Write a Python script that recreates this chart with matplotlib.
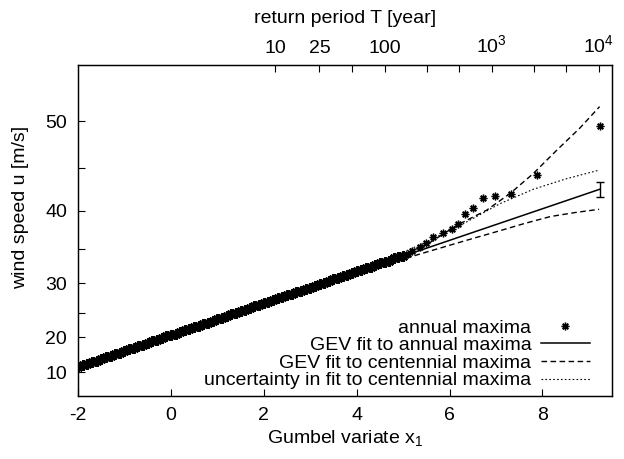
import numpy as np
import matplotlib
matplotlib.use('Agg')
import matplotlib.pyplot as plt

plt.rcParams['font.family'] = ['Liberation Sans', 'DejaVu Sans']
plt.rcParams['mathtext.fontset'] = 'custom'
plt.rcParams['mathtext.rm'] = 'Liberation Sans'

# annual maxima: dense band (Gumbel variate x1, wind speed u)
band_x = [-2.0, -1.9, -1.8, -1.7, -1.6, -1.5, -1.4, -1.3, -1.2, -1.1,
          -1.0, -0.9, -0.8, -0.7, -0.6, -0.5, -0.4, -0.3, -0.2, -0.1,
          0.0, 0.1, 0.2, 0.3, 0.4, 0.5, 0.6, 0.7, 0.8, 0.9,
          1.0, 1.1, 1.2, 1.3, 1.4, 1.5, 1.6, 1.7, 1.8, 1.9,
          2.0, 2.1, 2.2, 2.3, 2.4, 2.5, 2.6, 2.7, 2.8, 2.9,
          3.0, 3.1, 3.2, 3.3, 3.4, 3.5, 3.6, 3.7, 3.8, 3.9,
          4.0, 4.1, 4.2, 4.3, 4.4, 4.5, 4.6, 4.7, 4.8, 4.9, 5.0]
band_u = [12.1, 12.6, 13.1, 13.6, 14.1, 14.6, 15.0, 15.5, 15.9, 16.3,
          16.8, 17.2, 17.6, 17.9, 18.3, 18.7, 19.1, 19.4, 19.8, 20.2,
          20.5, 20.8, 21.2, 21.5, 21.8, 22.2, 22.5, 22.8, 23.1, 23.4,
          23.7, 24.0, 24.4, 24.7, 24.9, 25.2, 25.5, 25.8, 26.1, 26.4,
          26.7, 26.9, 27.2, 27.5, 27.7, 28.0, 28.3, 28.5, 28.8, 29.1,
          29.3, 29.6, 29.8, 30.1, 30.3, 30.6, 30.8, 31.1, 31.3, 31.5,
          31.8, 32.0, 32.3, 32.5, 32.8, 33.0, 33.2, 33.4, 33.7, 33.9, 34.1]
# annual maxima: sparse upper tail
tail_x = [5.1, 5.2, 5.37, 5.5, 5.65, 5.86, 6.05, 6.18, 6.34, 6.50, 6.71, 6.97, 7.33, 7.88, 9.24]
tail_u = [34.4, 34.8, 35.3, 35.8, 36.6, 37.2, 37.7, 38.3, 39.6, 40.3, 41.6, 41.8, 42.0, 44.2, 49.5]

# GEV fit to annual maxima
fit1_x = [-2.0, 9.23]
fit1_u = [12.1, 42.6]
fit1_err = (9.23, 42.6, 0.9, 0.9)  # x, u, lower, upper

# GEV fit to centennial maxima (upper curve) and lower curve
cent_x = [3.2, 4.5, 5.5, 6.16, 6.8, 7.3, 7.8, 8.31, 8.8, 9.23]
cent_u = [29.8, 32.9, 35.6, 38.2, 40.1, 42.1, 44.4, 47.0, 49.3, 51.5]
low_x = [3.2, 4.5, 5.5, 6.3, 7.09, 7.6, 8.17, 8.7, 9.22]
low_u = [29.8, 32.6, 34.6, 36.1, 37.5, 38.4, 39.3, 39.8, 40.2]
# uncertainty in fit to centennial maxima
unc_x = [3.2, 4.5, 5.5, 6.3, 7.09, 7.8, 8.5, 9.22]
unc_u = [29.8, 33.1, 36.0, 38.4, 40.9, 42.6, 43.8, 44.8]

# return period ticks on the top axis
T_major = [10, 25, 100, 1000, 10000]
T_major_labels = ['10', '25', '100', r'$10^3$', r'$10^4$']
T_minor = [50, 250, 500, 2500, 5000]

y_ticks = [10, 20, 30, 40, 50]
y_minor = [25, 35, 45]

P = 1.85
FS = 14
STAR = (8, 2, 0)


def fwd(u):
    u = np.asarray(u, dtype=float)
    return np.sign(u) * np.abs(u) ** P


def inv(v):
    v = np.asarray(v, dtype=float)
    return np.sign(v) * np.abs(v) ** (1.0 / P)


def gumbel(T):
    T = np.asarray(T, dtype=float)
    return -np.log(-np.log(1.0 - 1.0 / T))


fig = plt.figure(figsize=(6.24, 4.59), dpi=100)
ax = fig.add_axes([0.125, 0.137, 0.856, 0.721])
ax.set_yscale('function', functions=(fwd, inv))

ax.plot(band_x, band_u, linestyle='none', marker=STAR,
        markersize=7.5, markeredgewidth=1.7, color='black')
ax.plot(tail_x, tail_u, linestyle='none', marker=STAR,
        markersize=5.5, markeredgewidth=1.0, color='black', label='annual maxima')
ax.plot(fit1_x, fit1_u, color='black', linewidth=1.1, label='GEV fit to annual maxima')
ax.plot(cent_x, cent_u, color='black', linewidth=1.0, dashes=(4, 2.5),
        label='GEV fit to centennial maxima')
ax.plot(low_x, low_u, color='black', linewidth=1.0, dashes=(4, 2.5))
ax.plot(unc_x, unc_u, color='black', linewidth=0.8, dashes=(1.5, 2.0),
        label='uncertainty in fit to centennial maxima')
ax.errorbar([fit1_err[0]], [fit1_err[1]], yerr=[[fit1_err[2]], [fit1_err[3]]],
            fmt='none', ecolor='black', elinewidth=1.0, capsize=3, capthick=1.0)

ax.set_xlim(-2, 9.5)
ax.set_ylim(-8.6, 55.5)
ax.set_xticks([-2, 0, 2, 4, 6, 8])
ax.set_xticklabels(['-2', '0', '2', '4', '6', '8'])
ax.set_yticks(y_ticks)
ax.tick_params(axis='both', which='both', direction='in', length=5, width=0.8,
               labelsize=FS, top=False, right=False)
ax.tick_params(axis='x', pad=8)
ax.tick_params(axis='y', pad=8)
ax.set_yticks(y_minor, minor=True)
ax.xaxis.set_minor_locator(matplotlib.ticker.NullLocator())

ax.set_xlabel('Gumbel variate x$_1$', fontsize=FS, labelpad=3)
ax.set_ylabel('wind speed u [m/s]', fontsize=FS)
ax.yaxis.set_label_coords(-0.092, 0.57)

top = ax.twiny()
top.set_xlim(ax.get_xlim())
top.set_xticks(gumbel(T_major))
top.set_xticklabels(T_major_labels)
top.set_xticks(gumbel(T_minor), minor=True)
top.tick_params(axis='x', which='both', direction='in', length=5, width=0.8,
                labelsize=FS, pad=6)
top.set_xlabel('return period T [year]', fontsize=FS, labelpad=8)

for a in (ax, top):
    for s in a.spines.values():
        s.set_linewidth(0.9)

leg = ax.legend(loc='lower right', bbox_to_anchor=(0.98, -0.015), markerfirst=False,
                frameon=False, fontsize=FS, handlelength=2.5, handletextpad=0.5,
                labelspacing=0.0, borderaxespad=0.2)

fig.savefig('out.png', dpi=100)
plt.close(fig)
